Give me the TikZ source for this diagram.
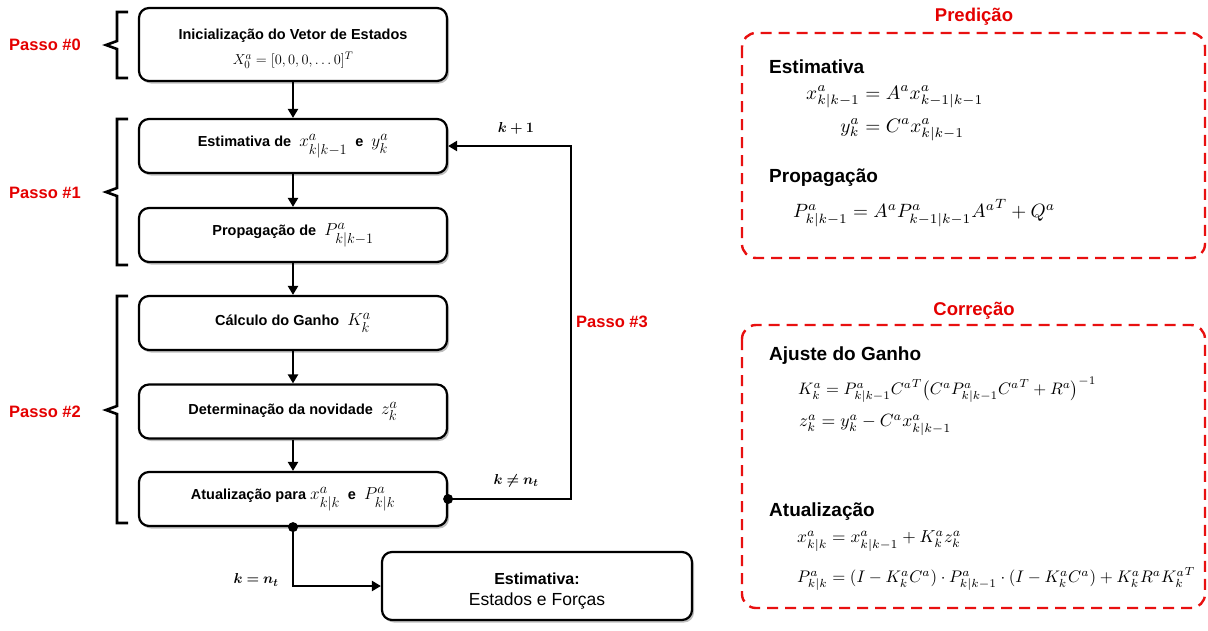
\documentclass[tikz,border=0pt]{standalone}
\usepackage{amsmath,bm,graphicx}
\usepackage[no-math]{fontspec}
\setmainfont{Liberation Sans}
\usetikzlibrary{shadows,arrows.meta}
\definecolor{redt}{RGB}{228,0,0}
\definecolor{redd}{RGB}{232,16,16}
\newcommand{\msz}{\fontsize{19}{21}\selectfont}
\newcommand{\eqw}[2]{\resizebox{#1pt}{!}{$#2$}}
\begin{document}
\begin{tikzpicture}[x=1pt,y=-1pt,
  flowbox/.style={draw, line width=2.2pt, rounded corners=10pt, fill=white,
    drop shadow={shadow xshift=2pt, shadow yshift=-2.5pt, opacity=0.25, fill=black},
    minimum width=308pt, inner sep=0pt, align=center,
    font=\fontsize{14.5}{17}\selectfont\bfseries},
  arr/.style={line width=2.4pt, -{Triangle[length=9pt,width=10pt]}},
  brk/.style={line width=2.6pt, line join=miter},
  passo/.style={text=redt, font=\fontsize{16.5}{19}\selectfont\bfseries},
  lbl/.style={font=\fontsize{15}{18}\selectfont},
  dashbox/.style={draw=redd, line width=2.4pt, dash pattern=on 11pt off 7pt, rounded corners=14pt},
  ttl/.style={text=redt, font=\fontsize{18.5}{21}\selectfont\bfseries},
  hdr/.style={anchor=west, inner sep=0pt, font=\fontsize{19}{22}\selectfont\bfseries},
  eq/.style={anchor=west, inner sep=0pt, font=\fontsize{10}{12}\selectfont}
]
\useasboundingbox (0,0) rectangle (1208,630);

% ---- flowchart boxes
\node[flowbox, minimum height=73pt] (b0) at (293,44.5)
  {\rule{0pt}{19pt}Inicialização do Vetor de Estados\\[8pt]{\mdseries\fontsize{15.5}{18}\selectfont $X_0^a = [0, 0, 0, \ldots 0]^T$}};
\node[flowbox, minimum height=54pt] (b1) at (293,146)
  {Estimativa de \ {\msz$x^a_{k|k-1}$} \ e \ {\msz$y^a_k$}};
\node[flowbox, minimum height=54pt] (b2) at (293,235)
  {Propagação de \ {\msz$P^a_{k|k-1}$}};
\node[flowbox, minimum height=54pt] (b3) at (293,323)
  {Cálculo do Ganho \ {\msz$K^a_k$}};
\node[flowbox, minimum height=54pt] (b4) at (293,411.5)
  {Determinação da novidade \ {\msz$z^a_k$}};
\node[flowbox, minimum height=54pt] (b5) at (293,499)
  {Atualização para {\msz$x^a_{k|k}$} \ e \ {\msz$P^a_{k|k}$}};
\node[flowbox, minimum width=310pt, minimum height=68pt, font=\fontsize{17.5}{21}\selectfont] (fin) at (537,586)
  {\rule{0pt}{21pt}{\fontsize{16}{19}\selectfont\bfseries Estimativa:}\\Estados e Forças};

% ---- connectors
\draw[arr] (b0.south) -- (b1.north);
\draw[arr] (b1.south) -- (b2.north);
\draw[arr] (b2.south) -- (b3.north);
\draw[arr] (b3.south) -- (b4.north);
\draw[arr] (b4.south) -- (b5.north);
\coordinate (loopc) at (571,499);
\draw[arr] (b5.east) -- (loopc) |- (b1.east);
\draw[arr] (b5.south) |- (fin.west);
\fill (b5.east) circle (5pt);
\fill (b5.south) circle (5pt);

\node[lbl] (kp1) at (516,128) {$\bm{k+1}$};
\node[lbl] (kne) at (516,481) {$\bm{k\neq n_t}$};
\node[lbl] (keq) at (256,580) {$\bm{k=n_t}$};
\node[passo] (p3) at (612,322) {Passo \#3};

% ---- brackets
\draw[brk] (128,12) -- (117,12) -- (117,41) -- (106,45) -- (117,49) -- (117,78) -- (128,78);
\draw[brk] (128,119) -- (117,119) -- (117,188) -- (106,192) -- (117,196) -- (117,265) -- (128,265);
\draw[brk] (128,296) -- (117,296) -- (117,406) -- (106,410) -- (117,414) -- (117,523) -- (128,523);
\node[passo] (p0) at (45,45) {Passo \#0};
\node[passo] (p1) at (45,193) {Passo \#1};
\node[passo] (p2) at (45,412) {Passo \#2};

% ---- Predição panel
\node[ttl] (predT) at (974,17) {Predição};
\draw[dashbox] (742,33) rectangle (1205,258);
\node[hdr] (h1) at (769,67) {Estimativa};
\node[eq] (e1) at (806,112) {\eqw{177}{\begin{aligned} x^a_{k|k-1} &= A^a x^a_{k-1|k-1}\\ y^a_k &= C^a x^a_{k|k-1}\end{aligned}}};
\node[hdr] (h2) at (769,178) {Propagação};
\node[eq] (e2) at (793,213) {\eqw{262}{P^a_{k|k-1} = A^a P^a_{k-1|k-1} {A^a}^T + Q^a}};

% ---- Correção panel
\node[ttl] (corT) at (974,311) {Correção};
\draw[dashbox] (742,325) rectangle (1205,608);
\node[hdr] (h3) at (769,356) {Ajuste do Ganho};
\node[eq] (e3) at (798,390) {\eqw{298}{K^a_k = P^a_{k|k-1} {C^a}^T \bigl(C^a P^a_{k|k-1} {C^a}^T + R^a\bigr)^{-1}}};
\node[eq] (e4) at (799,425) {\eqw{152}{z^a_k = y^a_k - C^a x^a_{k|k-1}}};
\node[hdr] (h4) at (769,512) {Atualização};
\node[eq] (e5) at (797,541) {\eqw{164}{x^a_{k|k} = x^a_{k|k-1} + K^a_k z^a_k}};
\node[eq] (e6) at (797,579) {\eqw{398}{P^a_{k|k} = (I - K^a_k C^a)\cdot P^a_{k|k-1}\cdot (I - K^a_k C^a) + K^a_k R^a {K^a_k}^T}};
\end{tikzpicture}
\end{document}
